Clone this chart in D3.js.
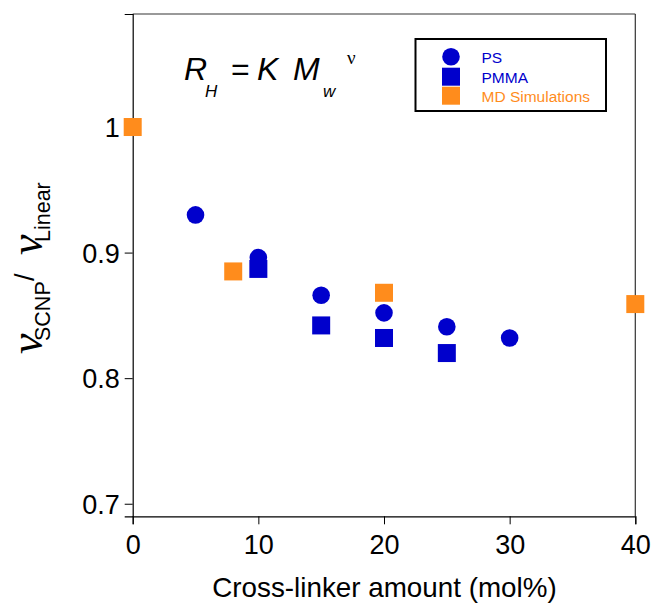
<!DOCTYPE html>
<html>
<head>
<meta charset="utf-8">
<script src="https://cdn.jsdelivr.net/npm/d3@7"></script>
<style>
  html, body { margin: 0; padding: 0; background: #fff; }
  svg { display: block; }
  text { font-family: "Liberation Sans", Arial, sans-serif; }
</style>
</head>
<body>
<script>
// ---- data ----
const psX = [5, 10, 15, 20, 25, 30];
const psY = [0.930, 0.896, 0.866, 0.852, 0.841, 0.832];
const pmmaX = [10, 15, 20, 25];
const pmmaY = [0.887, 0.842, 0.832, 0.820];
const mdX = [0, 8, 20, 40];
const mdY = [1.0, 0.885, 0.868, 0.859];
const xTicks = [0, 10, 20, 30, 40];
const yTicks = [0.7, 0.8, 0.9, 1.0];
const yTickLabels = ["0.7", "0.8", "0.9", "1"];
const legendLabels = ["PS", "PMMA", "MD Simulations"];

const W = 652, H = 603;
const pLeft = 132.7, pRight = 635.3, pTop = 14, pBottom = 516.3;
const blue = "#0000cc", orange = "#ff8c1c";

const svg = d3.select("body").append("svg").attr("width", W).attr("height", H);

const x = d3.scaleLinear().domain([0, 40]).range([pLeft, pRight]);
const y = d3.scaleLinear().domain([0.69, 1.09]).range([pBottom, pTop]);

// frame top & right
svg.append("line").attr("x1", pLeft).attr("x2", pRight).attr("y1", pTop).attr("y2", pTop)
  .attr("stroke", "#777").attr("stroke-width", 1.5);
svg.append("line").attr("x1", pRight).attr("x2", pRight).attr("y1", pTop).attr("y2", pBottom)
  .attr("stroke", "#333").attr("stroke-width", 1.2);

// axes
const xAxis = svg.append("g").attr("transform", `translate(0,${pBottom})`)
  .call(d3.axisBottom(x).tickValues(xTicks).tickSize(8).tickPadding(6).tickFormat(d3.format("d")));
const yAxis = svg.append("g").attr("transform", `translate(${pLeft},0)`)
  .call(d3.axisLeft(y).tickValues(yTicks).tickSize(8).tickPadding(5)
    .tickFormat((d, i) => yTickLabels[i]));
[xAxis, yAxis].forEach(a => {
  a.select(".domain").attr("stroke", "#000").attr("stroke-width", 1.2);
  a.selectAll(".tick line").attr("stroke", "#000").attr("stroke-width", 1);
  a.selectAll(".tick text").attr("font-size", 27).attr("fill", "#000")
    .style("font-family", '"Liberation Sans", Arial, sans-serif');
});
xAxis.selectAll(".tick text").attr("dy", "0.71em").attr("y", 19);
yAxis.selectAll(".tick text").attr("dy", "0.36em");

// axis titles
svg.append("text").attr("x", (pLeft + pRight) / 2 + 0.5).attr("y", 597)
  .attr("text-anchor", "middle").attr("font-size", 27.8).attr("fill", "#000")
  .text("Cross-linker amount (mol%)");

const yl = svg.append("g").attr("transform", "rotate(-90)");
const serif = '"Liberation Serif", "DejaVu Serif", serif';
yl.append("text").attr("x", -354).attr("y", 42).attr("font-size", 46)
  .style("font-family", serif).attr("font-style", "italic").text("ν");
yl.append("text").attr("x", -341).attr("y", 50).attr("font-size", 21.5).text("SCNP");
yl.append("text").attr("x", -281).attr("y", 34).attr("font-size", 27).text("/");
yl.append("text").attr("x", -255).attr("y", 42).attr("font-size", 46)
  .style("font-family", serif).attr("font-style", "italic").text("ν");
yl.append("text").attr("x", -242).attr("y", 50).attr("font-size", 21.5).text("Linear");

// equation
const eq = svg.append("text").attr("y", 80).attr("font-size", 32).attr("fill", "#000");
eq.append("tspan").attr("x", 184).attr("font-style", "italic").text("R");
eq.append("tspan").attr("x", 205).attr("y", 97).attr("font-size", 17).attr("font-style", "italic").text("H");
eq.append("tspan").attr("x", 231).attr("y", 80).text("=");
eq.append("tspan").attr("x", 257).attr("font-style", "italic").text("K");
eq.append("tspan").attr("x", 293).attr("font-style", "italic").text("M");
eq.append("tspan").attr("x", 323).attr("y", 97).attr("font-size", 17).attr("font-style", "italic").text("w");
eq.append("tspan").attr("x", 347).attr("y", 64).attr("font-size", 19)
  .style("font-family", serif).text("ν");

// markers
const sq = 18, r = 8.8;
svg.append("g").selectAll("circle").data(psX.map((d, i) => [d, psY[i]])).join("circle")
  .attr("cx", d => x(d[0])).attr("cy", d => y(d[1])).attr("r", r).attr("fill", blue);
svg.append("g").selectAll("rect").data(pmmaX.map((d, i) => [d, pmmaY[i]])).join("rect")
  .attr("x", d => x(d[0]) - sq / 2).attr("y", d => y(d[1]) - sq / 2)
  .attr("width", sq).attr("height", sq).attr("fill", blue);
svg.append("g").selectAll("rect").data(mdX.map((d, i) => [d, mdY[i]])).join("rect")
  .attr("x", d => x(d[0]) - sq / 2).attr("y", d => y(d[1]) - sq / 2)
  .attr("width", sq).attr("height", sq).attr("fill", orange);

// legend
const lg = svg.append("g");
lg.append("rect").attr("x", 415.5).attr("y", 39).attr("width", 190.5).attr("height", 72)
  .attr("fill", "#fff").attr("stroke", "#000").attr("stroke-width", 2);
const legY = [56.7, 76.7, 95.7];
const legColors = [blue, blue, orange];
lg.append("circle").attr("cx", 451).attr("cy", legY[0]).attr("r", r).attr("fill", blue);
lg.append("rect").attr("x", 451 - sq / 2).attr("y", legY[1] - sq / 2).attr("width", sq).attr("height", sq).attr("fill", blue);
lg.append("rect").attr("x", 451 - sq / 2).attr("y", legY[2] - sq / 2).attr("width", sq).attr("height", sq).attr("fill", orange);
lg.selectAll("text.leg").data(legendLabels).join("text").attr("class", "leg")
  .attr("x", 481.5).attr("y", (d, i) => legY[i] + 5.8).attr("font-size", 15.5)
  .attr("fill", (d, i) => legColors[i]).text(d => d);
</script>
</body>
</html>
